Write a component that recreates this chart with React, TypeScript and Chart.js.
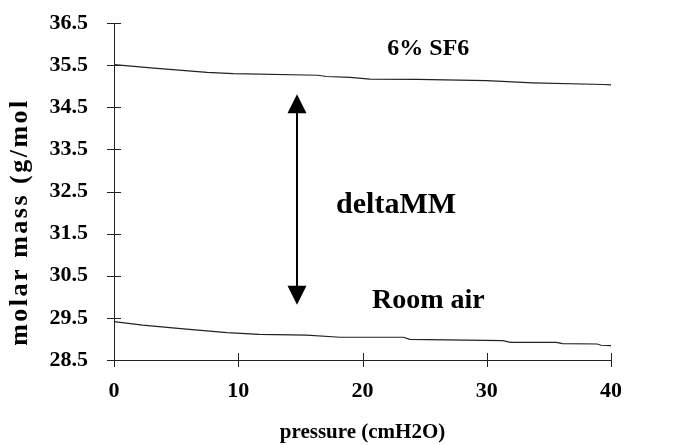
import React, { useEffect, useRef } from "react";
import { Chart, registerables } from "chart.js";
Chart.register(...registerables);

// ---- data ----
const sf6Pressure = [0, 3.2, 7.5, 9.6, 16.4, 17.1, 19, 20.6, 24.4, 30, 33.7, 39.4, 40];
const sf6Mass = [35.51, 35.43, 35.33, 35.3, 35.26, 35.23, 35.21, 35.17, 35.16, 35.13, 35.08, 35.04, 35.03];
const airPressure = [0, 2.3, 5.6, 9.1, 11.7, 15.5, 18.2, 23.3, 23.8, 31.3, 31.9, 35.6, 36.1, 38.9, 39.2, 40];
const airMass = [29.41, 29.33, 29.24, 29.15, 29.11, 29.09, 29.04, 29.04, 28.99, 28.96, 28.92, 28.92, 28.89, 28.88, 28.85, 28.84];
const xTicks = [0, 10, 20, 30, 40];
const yTicks = [28.5, 29.5, 30.5, 31.5, 32.5, 33.5, 34.5, 35.5, 36.5];
const xTitle = "pressure (cmH2O)";
const yTitle = "molar mass (g/mol";
const labelTexts = ["6% SF6", "deltaMM", "Room air"];
const labelPressure = [25.3, 22.7, 25.3];
const labelMass = [35.74, 31.99, 29.73];
const arrowPressure = 14.73;
const arrowTop = 34.81;
const arrowBottom = 29.81;

const FONT = "'Liberation Serif', 'Times New Roman', serif";

const decorPlugin = {
  id: "decor",
  afterDraw(chart: any) {
    const ctx = chart.ctx;
    const xs = chart.scales.x;
    const ys = chart.scales.y;
    const x0 = xs.getPixelForValue(0);
    const yb = ys.getPixelForValue(yTicks[0]);
    const yt = ys.getPixelForValue(yTicks[yTicks.length - 1]);
    const xr = xs.getPixelForValue(40);
    ctx.save();
    ctx.strokeStyle = "#222";
    ctx.lineWidth = 1;
    // axes
    ctx.beginPath();
    ctx.moveTo(Math.round(x0) + 0.5, yt);
    ctx.lineTo(Math.round(x0) + 0.5, yb + 7);
    ctx.moveTo(x0 - 7, Math.round(yb) + 0.5);
    ctx.lineTo(xr, Math.round(yb) + 0.5);
    // y tick marks
    yTicks.forEach((v) => {
      const py = Math.round(ys.getPixelForValue(v)) + 0.5;
      ctx.moveTo(x0 - 7, py);
      ctx.lineTo(x0 + 7, py);
    });
    xTicks.forEach((v) => {
      const px = Math.round(xs.getPixelForValue(v)) + 0.5;
      ctx.moveTo(px, yb - 7);
      ctx.lineTo(px, yb + 7);
    });
    ctx.stroke();

    // y title
    ctx.fillStyle = "#000";
    ctx.font = `bold 26px ${FONT}`;
    (ctx as any).letterSpacing = "2.5px";
    ctx.textAlign = "center";
    ctx.textBaseline = "middle";
    ctx.save();
    ctx.translate(20, 222);
    ctx.rotate(-Math.PI / 2);
    ctx.fillText(yTitle, 0, 0);
    ctx.restore();
    (ctx as any).letterSpacing = "0px";

    // annotations
    const sizes = [24, 30, 28];
    labelTexts.forEach((t, i) => {
      ctx.font = `bold ${sizes[i]}px ${FONT}`;
      ctx.textAlign = "center";
      ctx.textBaseline = "alphabetic";
      ctx.fillText(t, xs.getPixelForValue(labelPressure[i]), ys.getPixelForValue(labelMass[i]));
    });

    // double arrow
    const ax = xs.getPixelForValue(arrowPressure);
    const at = ys.getPixelForValue(arrowTop);
    const ab = ys.getPixelForValue(arrowBottom);
    const hw = 9.5;
    const hh = 19;
    ctx.strokeStyle = "#000";
    ctx.lineWidth = 2;
    ctx.beginPath();
    ctx.moveTo(ax, at + hh - 1);
    ctx.lineTo(ax, ab - hh + 1);
    ctx.stroke();
    ctx.fillStyle = "#000";
    ctx.beginPath();
    ctx.moveTo(ax, at);
    ctx.lineTo(ax - hw, at + hh);
    ctx.lineTo(ax + hw, at + hh);
    ctx.closePath();
    ctx.fill();
    ctx.beginPath();
    ctx.moveTo(ax, ab);
    ctx.lineTo(ax - hw, ab - hh);
    ctx.lineTo(ax + hw, ab - hh);
    ctx.closePath();
    ctx.fill();
    ctx.restore();
  },
};

export default function App() {
  const ref = useRef<HTMLCanvasElement | null>(null);
  useEffect(() => {
    if (!ref.current) return;
    const chart = new Chart(ref.current, {
      type: "line",
      data: {
        datasets: [
          {
            label: "6% SF6",
            data: sf6Pressure.map((p, i) => ({ x: p, y: sf6Mass[i] })),
            borderColor: "#222",
            borderWidth: 1.2,
            pointRadius: 0,
            tension: 0,
          },
          {
            label: "Room air",
            data: airPressure.map((p, i) => ({ x: p, y: airMass[i] })),
            borderColor: "#222",
            borderWidth: 1.2,
            pointRadius: 0,
            tension: 0,
          },
        ],
      },
      options: {
        animation: false,
        responsive: false,
        layout: { padding: { top: 23, right: 66, left: 0, bottom: 0 } },
        plugins: { legend: { display: false }, tooltip: { enabled: false } },
        scales: {
          x: {
            type: "linear",
            min: 0,
            max: 40,
            afterBuildTicks: (s: any) => {
              s.ticks = xTicks.map((v) => ({ value: v }));
            },
            afterFit: (s: any) => {
              s.height = 85;
              s.paddingLeft = 0;
              s.paddingRight = 0;
            },
            grid: { display: false },
            border: { display: false },
            ticks: {
              color: "#000",
              font: { family: FONT, size: 22, weight: "bold" },
              padding: 10,
              maxRotation: 0,
            },
            title: {
              display: true,
              text: xTitle,
              color: "#000",
              font: { family: FONT, size: 21, weight: "bold" },
              padding: { top: 0, bottom: 0 },
            },
          },
          y: {
            type: "linear",
            min: 28.5,
            max: 36.5,
            afterBuildTicks: (s: any) => {
              s.ticks = yTicks.map((v) => ({ value: v }));
            },
            afterFit: (s: any) => {
              s.width = 114;
              s.paddingTop = 0;
              s.paddingBottom = 0;
            },
            grid: { display: false },
            border: { display: false },
            ticks: {
              color: "#000",
              font: { family: FONT, size: 22, weight: "bold" },
              padding: 18,
              callback: (v: any) => Number(v).toFixed(1),
            },
          },
        },
      },
      plugins: [decorPlugin],
    });
    return () => chart.destroy();
  }, []);
  return (
    <div style={{ position: "fixed", left: 0, top: 0, width: 677, height: 445, background: "#fff" }}>
      <canvas ref={ref} width={677} height={445} style={{ display: "block" }} />
    </div>
  );
}
